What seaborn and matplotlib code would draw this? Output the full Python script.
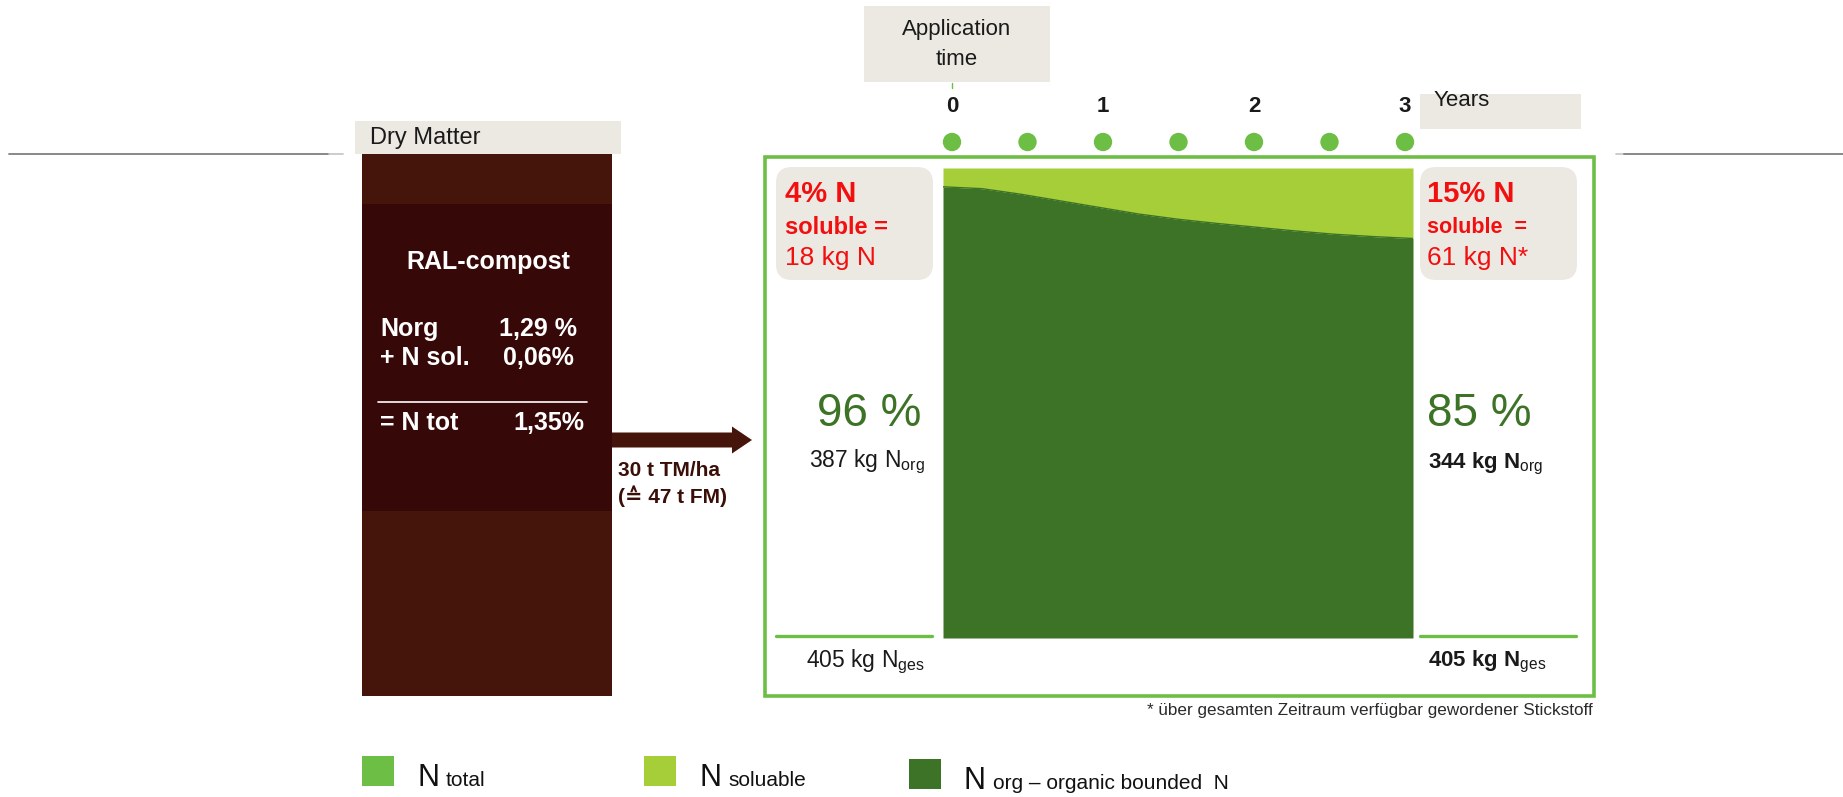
import numpy as np
import pandas as pd
import seaborn as sns
import matplotlib.pyplot as plt
from matplotlib.patches import Rectangle, FancyBboxPatch, FancyArrow

## 数据
years = [0, 0.25, 0.5, 0.75, 1.0, 1.25, 1.5, 1.75, 2.0, 2.25, 2.5, 2.75, 3.0]
soluble_pct = [4.0, 4.4, 5.6, 7.0, 8.4, 9.8, 10.9, 11.8, 12.6, 13.4, 14.1, 14.6, 15.0]
dot_years = [0, 0.5, 1, 1.5, 2, 2.5, 3]
year_ticks = [0, 1, 2, 3]

soluble_share = [4, 15]      # % N soluble (start, end)
soluble_kg = ["18 kg N", "61 kg N*"]
org_share = [96, 85]         # % N org
org_kg = [387, 344]
total_kg = 405

compost_rows = [("Norg", "1,29 %"), ("+ N sol.", "0,06%")]
compost_total = ("= N tot", "1,35%")

legend_main = ["N", "N", "N"]
legend_sub = ["total", "soluable", "org – organic bounded  N"]

# 颜色
DARK = "#3D7326"
LIGHT = "#A6CE39"
MID = "#6DBE45"
BROWN = "#45140A"
BROWN_D = "#370808"
BEIGE = "#ECE9E2"
RED = "#F20F0F"
legend_colors = [MID, LIGHT, DARK]

sns.set_theme(style="white")
plt.rcParams['font.family'] = ['Liberation Sans', 'DejaVu Sans']
plt.rcParams['mathtext.fontset'] = 'custom'
plt.rcParams['mathtext.rm'] = 'Liberation Sans'
plt.rcParams['mathtext.bf'] = 'Liberation Sans:bold'

W, H = 1843, 797
fig = plt.figure(figsize=(W / 100, H / 100), dpi=100)
fig.patch.set_facecolor("white")

bg = fig.add_axes([0, 0, 1, 1])
bg.set_xlim(0, W)
bg.set_ylim(H, 0)
bg.axis("off")


def px_axes(x0, y0, x1, y1):
    return fig.add_axes([x0 / W, 1 - y1 / H, (x1 - x0) / W, (y1 - y0) / H])


# 灰色横线
bg.plot([9, 329], [154, 154], color="#7f7f7f", lw=1.3)
bg.plot([329, 343], [154, 154], color="#c8c8c8", lw=1.3)
bg.plot([1616, 1624], [154, 154], color="#c8c8c8", lw=1.3)
bg.plot([1624, 1843], [154, 154], color="#7f7f7f", lw=1.3)

## 左侧: 堆肥柱
bg.add_patch(Rectangle((355, 121), 266, 33, fc=BEIGE, ec="none"))
bg.text(370, 138, "Dry Matter", fontsize=17, va="center", ha="left", color="#1a1a1a")
bg.add_patch(Rectangle((362, 154), 250, 542, fc=BROWN, ec="none"))
bg.add_patch(Rectangle((362, 204), 250, 307, fc=BROWN_D, ec="none"))
bg.text(488, 262, "RAL-compost", fontsize=18, fontweight="bold", color="white", ha="center", va="center")
for i, (lab, val) in enumerate(compost_rows):
    y = 329 + i * 29
    bg.text(380, y, lab, fontsize=18, fontweight="bold", color="white", va="center")
    bg.text(577 - i * 3, y, val, fontsize=18, fontweight="bold", color="white", va="center", ha="right")
bg.plot([378, 587], [402, 402], color="white", lw=1.2)
bg.text(380, 423, compost_total[0], fontsize=18, fontweight="bold", color="white", va="center")
bg.text(584, 423, compost_total[1], fontsize=18, fontweight="bold", color="white", va="center", ha="right")

# 箭头
bg.add_patch(FancyArrow(612, 440, 140, 0, width=15, head_width=27, head_length=20,
                        length_includes_head=True, color=BROWN, lw=0))
bg.text(618, 470, "30 t TM/ha", fontsize=15, fontweight="bold", color="#3A0F08", va="center")
bg.text(618, 496, "(≙ 47 t FM)", fontsize=15, fontweight="bold", color="#3A0F08", va="center")

## 时间轴
bg.add_patch(Rectangle((864, 6), 186, 76, fc=BEIGE, ec="none"))
bg.text(957, 29, "Application", fontsize=16, ha="center", va="center", color="#1a1a1a")
bg.text(957, 59, "time", fontsize=16, ha="center", va="center", color="#1a1a1a")
bg.plot([952, 952], [83, 88], color=MID, lw=1)
bg.add_patch(Rectangle((1420, 94), 161, 35, fc=BEIGE, ec="none"))
bg.text(1434, 100, "Years", fontsize=16, ha="left", va="center", color="#1a1a1a")

tax = px_axes(952, 127, 1405, 157)
sns.scatterplot(x=dot_years, y=[0.5] * len(dot_years), ax=tax, s=175, color=MID,
                edgecolor="none", clip_on=False, legend=False)
tax.set_xlim(0, 3)
tax.set_ylim(0, 1)
tax.xaxis.tick_top()
tax.set_xticks(year_ticks)
tax.set_xticklabels([str(t) for t in year_ticks], fontsize=16, fontweight="bold", color="#1a1a1a")
tax.tick_params(axis="x", length=0, pad=7)
tax.set_yticks([])
for s in tax.spines.values():
    s.set_visible(False)
tax.patch.set_alpha(0)

## 面积图
df = pd.DataFrame({"year": years, "soluble": soluble_pct})
df["org"] = 100 - df["soluble"]
ax = px_axes(943, 168, 1413, 638)
ax.fill_between(df["year"], 0, df["org"], color=DARK, lw=0)
ax.fill_between(df["year"], df["org"], 100, color=LIGHT, lw=0)
sns.lineplot(data=df, x="year", y="org", ax=ax, color=DARK, lw=1)
ax.set_xlim(0, 3)
ax.set_ylim(0, 100)
ax.margins(0)
ax.axis("off")

# 绿色框
bg.add_patch(Rectangle((765, 157), 829, 539, fc="none", ec=MID, lw=2.6))

# 左右两侧文字
cols = [(776, 785), (1420, 1427)]
for i, (bx, tx) in enumerate(cols):
    bg.add_patch(FancyBboxPatch((bx, 167), 157, 113, boxstyle="round,pad=0,rounding_size=16",
                                fc=BEIGE, ec="none"))
    bg.text(tx, 194, f"{soluble_share[i]}% N", fontsize=21, fontweight="bold", color=RED, va="center")
    sol_txt = "soluble =" if i == 0 else "soluble  ="
    bg.text(tx, 227, sol_txt, fontsize=17 if i == 0 else 15.5, fontweight="bold", color=RED, va="center")
    bg.text(tx, 258, soluble_kg[i], fontsize=19, color=RED, va="center")
    bg.plot([bx, bx + 156], [636, 636], color=MID, lw=2.4)

bg.text(869, 414, f"{org_share[0]} %", fontsize=33, color=DARK, ha="center", va="center")
bg.text(809, 462, f"{org_kg[0]} kg N$_{{\\mathrm{{org}}}}$", fontsize=16.5, color="#1a1a1a", va="center")
bg.text(806, 662, f"{total_kg} kg N$_{{\\mathrm{{ges}}}}$", fontsize=16.5, color="#1a1a1a", va="center")
bg.text(1427, 414, f"{org_share[1]} %", fontsize=33, color=DARK, ha="left", va="center")
bg.text(1428, 464, f"{org_kg[1]} kg N$_{{\\mathrm{{org}}}}$", fontsize=16, fontweight="bold", color="#1a1a1a", va="center")
bg.text(1428, 662, f"{total_kg} kg N$_{{\\mathrm{{ges}}}}$", fontsize=16, fontweight="bold", color="#1a1a1a", va="center")

bg.text(1593, 710, "* über gesamten Zeitraum verfügbar gewordener Stickstoff", fontsize=12.3,
        color="#2a2a2a", ha="right", va="center")

## 图例
leg_sq = [362, 644, 909]
leg_base = [786, 786, 789]
for i in range(3):
    x0 = leg_sq[i]
    bg.add_patch(Rectangle((x0, leg_base[i] - 30), 32, 30, fc=legend_colors[i], ec="none"))
    bg.text(x0 + 55, leg_base[i], legend_main[i], fontsize=22, color="#111111", va="baseline")
    bg.text(x0 + 84, leg_base[i], legend_sub[i], fontsize=15, color="#111111", va="baseline")

fig.savefig("out.png", dpi=100)
